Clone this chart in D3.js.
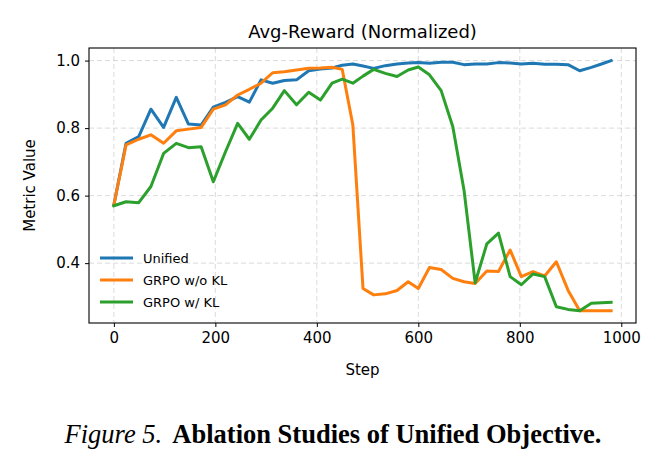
<!DOCTYPE html>
<html>
<head>
<meta charset="utf-8">
<script src="https://cdn.jsdelivr.net/npm/d3@7"></script>
<style>
    body { margin: 0; background: #fff; }
    svg { display: block; }
    .tick text { font-family: "DejaVu Sans", sans-serif; font-size: 15px; fill: #000; }
    .axisLabel { font-family: "DejaVu Sans", sans-serif; font-size: 15px; fill: #000; }
</style>
</head>
<body>
<svg id="chart" width="665" height="465"></svg>
<script>
//////////////////// DATA ////////////////////
// training steps (shared by all runs)
const steps = [0, 24, 49, 73, 98, 123, 147, 172, 196, 220, 244, 267, 290, 313, 336, 360, 384, 407, 430, 450,
    471, 491, 512, 535, 558, 580, 600, 622, 645, 668, 690, 712, 735, 758, 781, 803, 826, 849, 872, 895,
    918, 941, 961, 980];

// normalized avg reward per run
const unified = [0.572, 0.755, 0.775, 0.856, 0.802, 0.891, 0.812, 0.809, 0.862, 0.876, 0.893, 0.877, 0.943, 0.933,
    0.941, 0.943, 0.970, 0.975, 0.978, 0.986, 0.990, 0.984, 0.977, 0.985, 0.990, 0.993, 0.994, 0.992, 0.995,
    0.995, 0.988, 0.990, 0.990, 0.994, 0.993, 0.990, 0.992, 0.989, 0.989, 0.988, 0.970, 0.980, 0.990, 1.000];
const grpoNoKL = [0.572, 0.750, 0.767, 0.780, 0.755, 0.792, 0.797, 0.802, 0.856, 0.869, 0.898, 0.915, 0.933, 0.964,
    0.967, 0.972, 0.977, 0.978, 0.980, 0.974, 0.809, 0.325, 0.306, 0.309, 0.319, 0.345, 0.325, 0.387, 0.381,
    0.355, 0.345, 0.340, 0.377, 0.375, 0.439, 0.360, 0.375, 0.362, 0.404, 0.320, 0.259, 0.259, 0.259, 0.259];
const grpoKL = [0.570, 0.582, 0.579, 0.627, 0.725, 0.755, 0.742, 0.745, 0.641, 0.730, 0.814, 0.767, 0.824, 0.859,
    0.911, 0.869, 0.906, 0.883, 0.933, 0.945, 0.933, 0.954, 0.974, 0.962, 0.953, 0.972, 0.981, 0.958, 0.911,
    0.804, 0.617, 0.342, 0.457, 0.489, 0.360, 0.336, 0.368, 0.360, 0.271, 0.263, 0.259, 0.281, 0.283, 0.284];

const seriesNames = ["Unified", "GRPO w/o KL", "GRPO w/ KL"];
const seriesColors = ["#1f77b4", "#ff7f0e", "#2ca02c"];
const seriesValues = [unified, grpoNoKL, grpoKL];

const xTicks = [0, 200, 400, 600, 800, 1000];
const yTicks = [0.4, 0.6, 0.8, 1.0];


//////////////////// SIZES ////////////////////
const svg = d3.select("#chart");
const plot = { left: 89, right: 636, top: 48, bottom: 323 };


//////////////////// SCALES ////////////////////
const xScale = d3.scaleLinear().domain([-49, 1029]).range([plot.left, plot.right]);
const yScale = d3.scaleLinear().domain([0.2227, 1.0373]).range([plot.bottom, plot.top]);


//////////////////// GRID ////////////////////
const grid = svg.append("g")
    .attr("stroke", "#b0b0b0")
    .attr("stroke-opacity", 0.45)
    .attr("stroke-width", 1)
    .attr("stroke-dasharray", "5,3");

grid.selectAll(".gx").data(xTicks).enter().append("line")
    .attr("x1", d => xScale(d)).attr("x2", d => xScale(d))
    .attr("y1", plot.top).attr("y2", plot.bottom);

grid.selectAll(".gy").data(yTicks).enter().append("line")
    .attr("x1", plot.left).attr("x2", plot.right)
    .attr("y1", d => yScale(d)).attr("y2", d => yScale(d));


//////////////////// LINES ////////////////////
const line = d3.line()
    .x((d, i) => xScale(steps[i]))
    .y(d => yScale(d));

seriesValues.forEach((vals, k) => {
    svg.append("path")
        .datum(vals)
        .attr("fill", "none")
        .attr("stroke", seriesColors[k])
        .attr("stroke-width", 3)
        .attr("stroke-linejoin", "round")
        .attr("stroke-linecap", "square")
        .attr("d", line);
});


//////////////////// AXES ////////////////////
const xAxis = d3.axisBottom(xScale).tickValues(xTicks).tickSize(4).tickPadding(5).tickFormat(d3.format("d"));
const yAxis = d3.axisLeft(yScale).tickValues(yTicks).tickSize(4).tickPadding(5).tickFormat(d3.format(".1f"));

const xAxisGroup = svg.append("g")
    .attr("transform", `translate(0, ${plot.bottom})`)
    .call(xAxis);
const yAxisGroup = svg.append("g")
    .attr("transform", `translate(${plot.left}, 0)`)
    .call(yAxis);

[xAxisGroup, yAxisGroup].forEach(g => {
    g.select(".domain").remove();
    g.selectAll(".tick line").attr("stroke", "#000").attr("stroke-width", 1);
});

// frame
svg.append("rect")
    .attr("x", plot.left).attr("y", plot.top)
    .attr("width", plot.right - plot.left).attr("height", plot.bottom - plot.top)
    .attr("fill", "none").attr("stroke", "#000").attr("stroke-width", 1.1);


//////////////////// TEXT ////////////////////
svg.append("text")
    .attr("class", "axisLabel")
    .attr("x", (plot.left + plot.right) / 2)
    .attr("y", 38)
    .attr("text-anchor", "middle")
    .style("font-size", "18px")
    .text("Avg-Reward (Normalized)");

svg.append("text")
    .attr("class", "axisLabel")
    .attr("x", (plot.left + plot.right) / 2)
    .attr("y", 375)
    .attr("text-anchor", "middle")
    .text("Step");

svg.append("text")
    .attr("class", "axisLabel")
    .attr("transform", `rotate(-90, 35, ${(plot.top + plot.bottom) / 2})`)
    .attr("x", 35)
    .attr("y", (plot.top + plot.bottom) / 2)
    .attr("text-anchor", "middle")
    .text("Metric Value");


//////////////////// LEGEND ////////////////////
const legend = svg.append("g").attr("transform", "translate(100, 258)");
seriesNames.forEach((name, k) => {
    legend.append("line")
        .attr("x1", 0).attr("x2", 33)
        .attr("y1", k * 22).attr("y2", k * 22)
        .attr("stroke", seriesColors[k]).attr("stroke-width", 3);
    legend.append("text")
        .attr("x", 43).attr("y", k * 22 + 5)
        .style("font-family", "'DejaVu Sans', sans-serif")
        .style("font-size", "13px")
        .text(name);
});


//////////////////// CAPTION ////////////////////
const caption = svg.append("text")
    .attr("x", 333)
    .attr("y", 443)
    .attr("text-anchor", "middle")
    .style("font-family", "'Liberation Serif', 'Times New Roman', serif")
    .style("font-size", "26.5px");
caption.append("tspan").style("font-style", "italic").text("Figure 5.");
caption.append("tspan").style("font-weight", "bold").attr("dx", 5).text(" Ablation Studies of Unified Objective.");
</script>
</body>
</html>
